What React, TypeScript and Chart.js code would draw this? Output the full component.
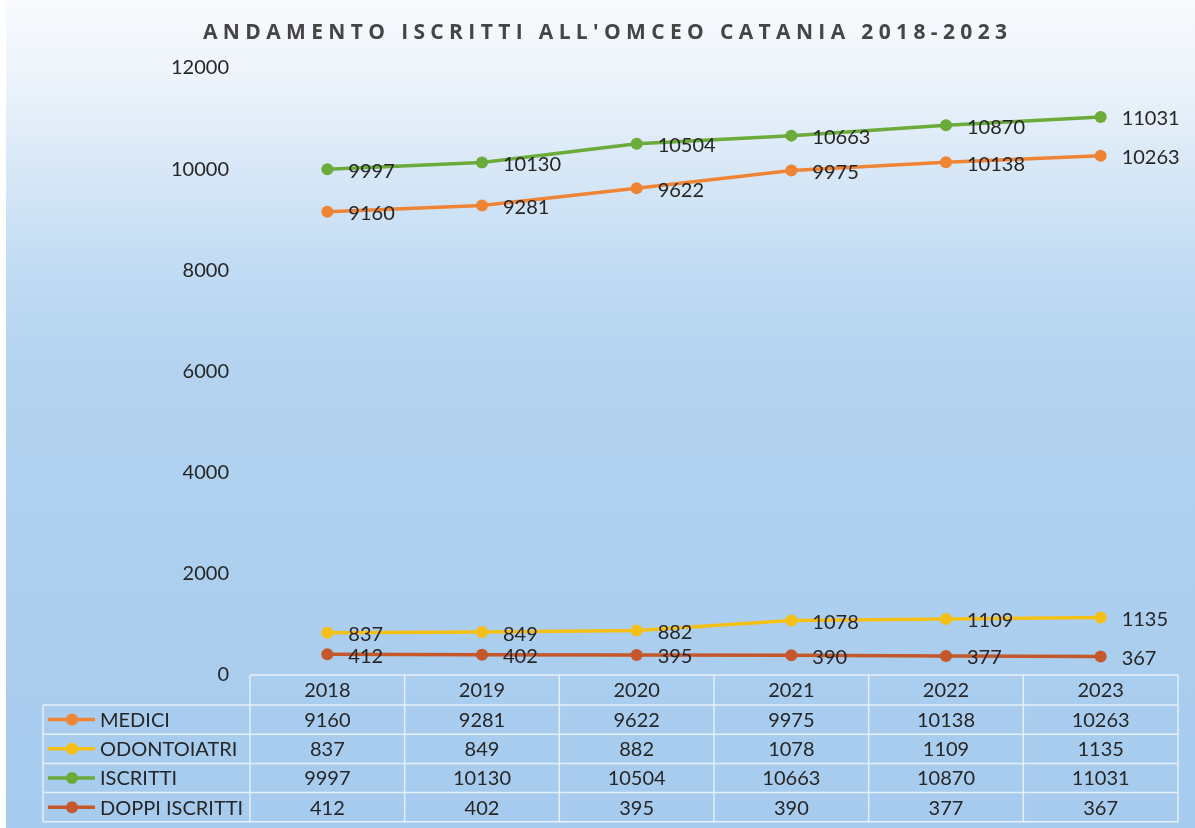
import React, { useEffect, useRef } from "react";
import { Chart, registerables } from "chart.js";

Chart.register(...registerables);

const years = ["2018", "2019", "2020", "2021", "2022", "2023"];
const medici = [9160, 9281, 9622, 9975, 10138, 10263];
const odontoiatri = [837, 849, 882, 1078, 1109, 1135];
const iscritti = [9997, 10130, 10504, 10663, 10870, 11031];
const doppiIscritti = [412, 402, 395, 390, 377, 367];
const seriesNames = ["MEDICI", "ODONTOIATRI", "ISCRITTI", "DOPPI ISCRITTI"];
const seriesColors = ["#ee8434", "#f4c016", "#6aab3a", "#c4582a"];
const chartTitle = "ANDAMENTO ISCRITTI ALL'OMCEO CATANIA 2018-2023";

const FONT = "Lato, 'Open Sans', sans-serif";
const TITLE_FONT = "'Open Sans', Lato, sans-serif";
const TEXT = "#262626";
const FS = 20;

const bgPlugin = {
  id: "bgGradient",
  beforeDraw(chart: any) {
    const { ctx, width, height } = chart;
    ctx.save();
    const g = ctx.createLinearGradient(0, 0, 0, height);
    g.addColorStop(0, "#f8fafd");
    g.addColorStop(0.08, "#eff5fb");
    g.addColorStop(0.2, "#d9e8f7");
    g.addColorStop(0.33, "#c0dbf3");
    g.addColorStop(0.45, "#b3d3f0");
    g.addColorStop(1, "#a6cbee");
    ctx.fillStyle = g;
    ctx.fillRect(0, 0, width, height);
    ctx.fillStyle = "#ffffff";
    ctx.fillRect(0, 0, 6, height);
    ctx.restore();
  },
};

const titlePlugin = {
  id: "spacedTitle",
  afterDraw(chart: any) {
    const { ctx } = chart;
    ctx.save();
    ctx.font = `bold 21px ${TITLE_FONT}`;
    ctx.fillStyle = "#454545";
    ctx.textBaseline = "middle";
    ctx.textAlign = "left";
    (ctx as any).letterSpacing = "0px";
    const w0 = ctx.measureText(chartTitle).width;
    const target = 804;
    const sp = (target - w0) / (chartTitle.length - 1);
    (ctx as any).letterSpacing = `${sp}px`;
    ctx.fillText(chartTitle, 203, 33);
    ctx.restore();
  },
};

const labelPlugin = {
  id: "pointLabels",
  afterDatasetsDraw(chart: any) {
    const { ctx } = chart;
    ctx.save();
    ctx.font = `${FS}px ${FONT}`;
    ctx.fillStyle = TEXT;
    ctx.textBaseline = "middle";
    ctx.textAlign = "left";
    chart.data.datasets.forEach((ds: any, di: number) => {
      const meta = chart.getDatasetMeta(di);
      meta.data.forEach((pt: any, i: number) => {
        ctx.fillText(String(ds.data[i]), pt.x + 21, pt.y + 2);
      });
    });
    ctx.restore();
  },
};

const tablePlugin = {
  id: "dataTable",
  afterDraw(chart: any) {
    const { ctx, chartArea } = chart;
    const xs = chart.scales.x;
    const left = chartArea.left;
    const right = chartArea.right;
    const colW = (right - left) / years.length;
    const top = chartArea.bottom;
    const headerH = 30;
    const rowH = 29.2;
    const legendLeft = 43;
    const tableBottom = top + headerH + rowH * seriesNames.length;

    ctx.save();
    ctx.strokeStyle = "rgba(240,246,252,0.85)";
    ctx.lineWidth = 1.5;
    ctx.beginPath();
    ctx.moveTo(left, top);
    ctx.lineTo(right, top);
    for (let r = 0; r <= seriesNames.length; r++) {
      const y = top + headerH + rowH * r;
      ctx.moveTo(legendLeft, y);
      ctx.lineTo(right, y);
    }
    for (let c = 0; c <= years.length; c++) {
      const x = left + colW * c;
      ctx.moveTo(x, top);
      ctx.lineTo(x, tableBottom);
    }
    ctx.moveTo(legendLeft, top + headerH);
    ctx.lineTo(legendLeft, tableBottom);
    ctx.stroke();

    ctx.font = `${FS}px ${FONT}`;
    ctx.fillStyle = TEXT;
    ctx.textBaseline = "middle";
    ctx.textAlign = "center";
    years.forEach((yr, i) => {
      ctx.fillText(yr, xs.getPixelForValue(i), top + headerH / 2 + 1);
    });

    chart.data.datasets.forEach((ds: any, di: number) => {
      const cy = top + headerH + rowH * di + rowH / 2 + 1;
      ctx.textAlign = "center";
      ctx.fillStyle = TEXT;
      ds.data.forEach((v: number, i: number) => {
        ctx.fillText(String(v), xs.getPixelForValue(i), cy);
      });
      ctx.strokeStyle = seriesColors[di];
      ctx.lineWidth = 3.5;
      ctx.beginPath();
      ctx.moveTo(48, cy - 1);
      ctx.lineTo(95, cy - 1);
      ctx.stroke();
      ctx.fillStyle = seriesColors[di];
      ctx.beginPath();
      ctx.arc(72, cy - 1, 6, 0, Math.PI * 2);
      ctx.fill();
      ctx.fillStyle = TEXT;
      ctx.textAlign = "left";
      ctx.fillText(seriesNames[di], 100, cy);
    });
    ctx.restore();
  },
};

export default function App() {
  const ref = useRef<HTMLCanvasElement | null>(null);

  useEffect(() => {
    if (!ref.current) return;
    const values = [medici, odontoiatri, iscritti, doppiIscritti];
    const chart = new Chart(ref.current, {
      type: "line",
      data: {
        labels: years,
        datasets: seriesNames.map((name, i) => ({
          label: name,
          data: values[i],
          borderColor: seriesColors[i],
          backgroundColor: seriesColors[i],
          pointBackgroundColor: seriesColors[i],
          pointBorderColor: seriesColors[i],
          pointRadius: 6,
          pointBorderWidth: 0,
          borderWidth: 3.5,
          tension: 0,
          fill: false,
        })),
      },
      options: {
        animation: false,
        responsive: false,
        devicePixelRatio: 1,
        layout: { padding: { top: 68, bottom: 153, left: 0, right: 17 } },
        plugins: {
          legend: { display: false },
          title: { display: false },
          tooltip: { enabled: false },
        },
        scales: {
          x: {
            type: "category",
            offset: true,
            display: false,
            grid: { display: false },
          },
          y: {
            min: 0,
            max: 12000,
            ticks: {
              stepSize: 2000,
              padding: 21,
              color: TEXT,
              font: { family: FONT, size: FS },
              callback: (v: any) => String(v),
            },
            grid: { display: false, drawTicks: false },
            border: { display: false },
            afterFit: (scale: any) => {
              scale.width = 250;
            },
          },
        },
      },
      plugins: [bgPlugin, titlePlugin, labelPlugin, tablePlugin],
    } as any);
    return () => chart.destroy();
  }, []);

  return (
    <div style={{ position: "fixed", left: 0, top: 0, width: 1195, height: 828 }}>
      <canvas ref={ref} width={1195} height={828} style={{ display: "block" }} />
    </div>
  );
}
